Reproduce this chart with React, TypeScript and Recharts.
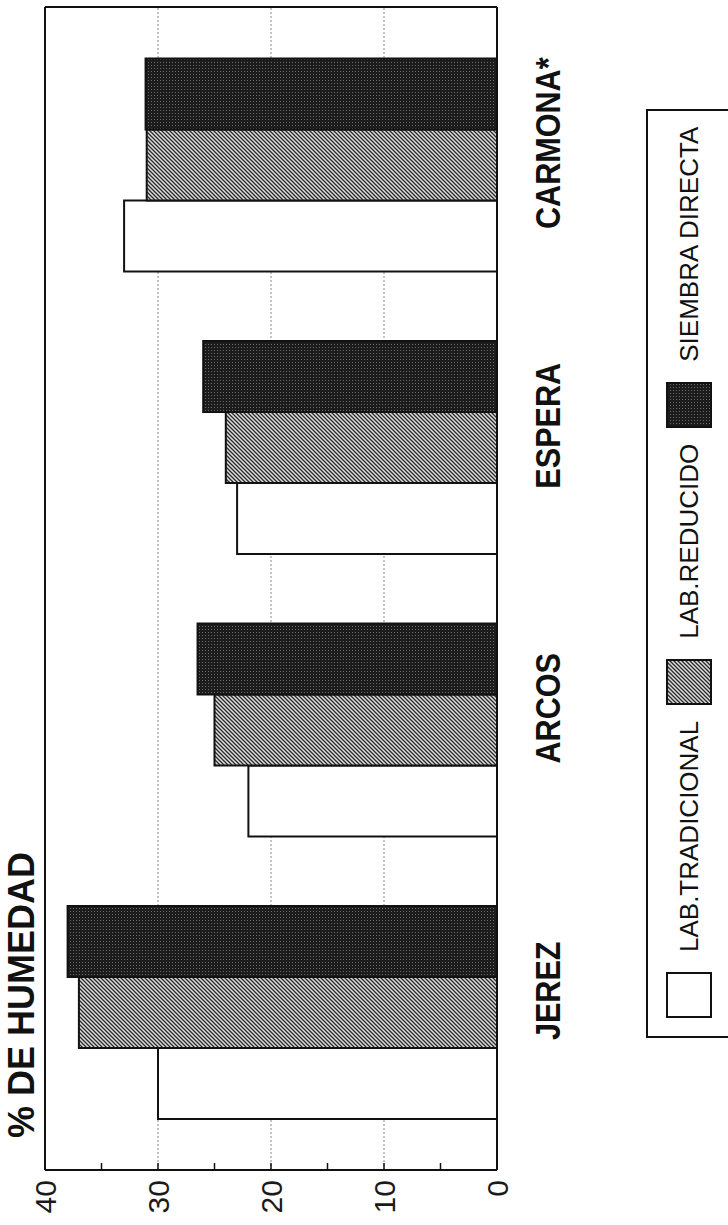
import React from 'react';
import { BarChart, Bar, XAxis, YAxis, CartesianGrid, Legend } from 'recharts';

// datos (% de humedad)
const sitios = ['JEREZ', 'ARCOS', 'ESPERA', 'CARMONA*'];
const labTradicional = [30, 22, 23, 33];
const labReducido = [37, 25, 24, 31];
const siembraDirecta = [38, 26.5, 26, 31.1];
const ejeTicks = [0, 5, 10, 15, 20, 25, 30, 35, 40];
const rejilla = [10, 20, 30];

const FUENTE = '"Liberation Sans", Arial, sans-serif';

const series = [
  { key: 'trad', name: 'LAB.TRADICIONAL', fill: '#ffffff' },
  { key: 'red', name: 'LAB.REDUCIDO', fill: 'url(#rayado)' },
  { key: 'sd', name: 'SIEMBRA DIRECTA', fill: 'url(#trama)' },
];

const data = sitios.map((s, i) => ({
  sitio: s,
  trad: labTradicional[i],
  red: labReducido[i],
  sd: siembraDirecta[i],
}));

const TickValor = (props: any) => {
  const { x, y, payload } = props;
  const v = payload.value;
  const eje = x + 10;
  return (
    <g>
      {v > 0 && v < 40 && (
        <line x1={eje} x2={eje + 7} y1={y} y2={y} stroke="#111" strokeWidth={1.5} />
      )}
      {v % 10 === 0 && (
        <text x={x} y={y} dy={11} textAnchor="end" fontSize={30} fill="#1a1a1a" fontFamily={FUENTE}>
          {v}
        </text>
      )}
    </g>
  );
};

const TickSitio = (props: any) => {
  const { x, y, payload } = props;
  return (
    <g transform={`translate(${x + 22},${y + 63})`}>
      <text
        transform="scale(0.85,1)"
        textAnchor="middle"
        fontSize={36}
        fontWeight="bold"
        fill="#111"
        fontFamily={FUENTE}
      >
        {payload.value}
      </text>
    </g>
  );
};

// leyenda en el orden de las series (la de recharts 3 ordena por nombre)
const Leyenda = () => (
  <div style={{ display: 'flex', alignItems: 'center', padding: '18px 0 0 18px', fontFamily: FUENTE }}>
    {series.map(s => (
      <div key={s.key} style={{ display: 'flex', alignItems: 'center', marginRight: 16 }}>
        <svg width={46} height={46} style={{ display: 'block' }}>
          <rect x={1} y={1} width={44} height={44} fill={s.fill} stroke="#111" strokeWidth={2} />
        </svg>
        <span style={{ marginLeft: 20, fontSize: 26, color: '#111', whiteSpace: 'nowrap' }}>{s.name}</span>
      </div>
    ))}
  </div>
);

export default function App() {
  return (
    <div style={{ position: 'fixed', top: 0, left: 0, width: 728, height: 1225, overflow: 'hidden', background: '#fff' }}>
      <div
        style={{
          position: 'absolute',
          top: 0,
          left: 0,
          width: 1225,
          height: 728,
          transformOrigin: '0 0',
          transform: 'translate(0px, 1225px) rotate(-90deg)',
        }}
      >
        <div
          style={{
            position: 'absolute',
            left: 87,
            top: 4,
            fontFamily: FUENTE,
            fontSize: 36,
            fontWeight: 'bold',
            lineHeight: 1,
            color: '#111',
            whiteSpace: 'nowrap',
          }}
        >
          % DE HUMEDAD
        </div>
        <BarChart
          width={1225}
          height={728}
          data={data}
          margin={{ top: 45, right: 7, left: 0, bottom: 131 }}
          barSize={71}
          barGap={0}
        >
          <defs>
            <pattern id="rayado" width={4} height={4} patternUnits="userSpaceOnUse">
              <rect width={4} height={4} fill="#dcdcdc" />
              <path d="M0,4 L4,0 M-1,1 L1,-1 M3,5 L5,3" stroke="#2a2a2a" strokeWidth={1.3} />
            </pattern>
            <pattern id="trama" width={3} height={3} patternUnits="userSpaceOnUse">
              <rect width={3} height={3} fill="#1c1c1c" />
              <rect x={1} y={1} width={1} height={1} fill="#6a6a6a" />
            </pattern>
          </defs>
          <CartesianGrid
            vertical={false}
            horizontalValues={rejilla}
            stroke="#888"
            strokeDasharray="2 2"
          />
          <CartesianGrid
            horizontalCoordinatesGenerator={({ offset }: any) => [offset.top, offset.top + offset.height]}
            verticalCoordinatesGenerator={({ offset }: any) => [offset.left, offset.left + offset.width]}
            stroke="#111"
            strokeWidth={2}
          />
          <XAxis
            dataKey="sitio"
            axisLine={false}
            tickLine={false}
            tickSize={0}
            tickMargin={0}
            height={100}
            padding={{ left: 16, right: 17 }}
            tick={<TickSitio />}
            interval={0}
          />
          <YAxis
            domain={[0, 40]}
            ticks={ejeTicks}
            width={55}
            axisLine={false}
            tickLine={false}
            tickSize={0}
            tickMargin={10}
            tick={<TickValor />}
            interval={0}
          />
          <Legend
            layout="horizontal"
            align="center"
            verticalAlign="middle"
            content={<Leyenda />}
            wrapperStyle={{
              left: 187,
              top: 646,
              width: 929,
              height: 140,
              border: '2px solid #111',
              boxSizing: 'border-box',
              background: '#fff',
            }}
          />
          {series.map(s => (
            <Bar
              key={s.key}
              dataKey={s.key}
              name={s.name}
              fill={s.fill}
              stroke="#111"
              strokeWidth={2}
              isAnimationActive={false}
            />
          ))}
        </BarChart>
      </div>
    </div>
  );
}
